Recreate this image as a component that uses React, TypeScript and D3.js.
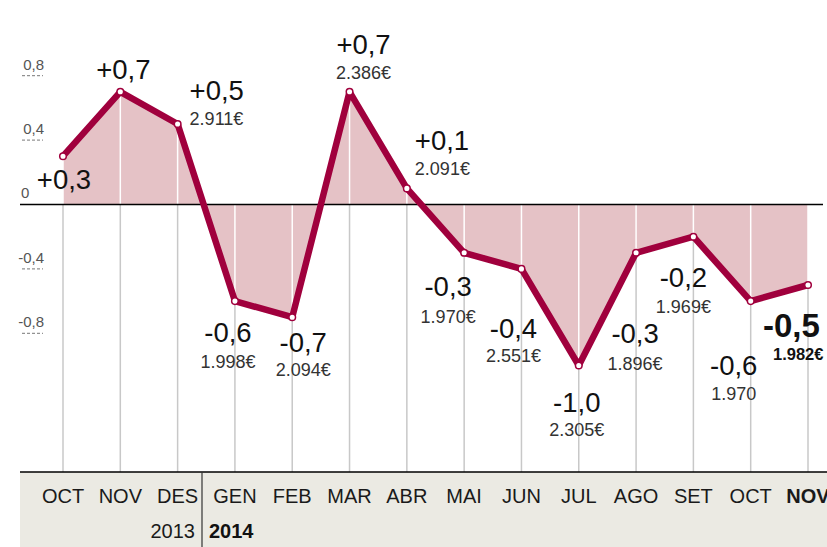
import React from 'react';
import * as d3 from 'd3';

// monthly change in % and average price
const months = ['OCT', 'NOV', 'DES', 'GEN', 'FEB', 'MAR', 'ABR', 'MAI', 'JUN', 'JUL', 'AGO', 'SET', 'OCT ', 'NOV '];
const monthLabels = ['OCT', 'NOV', 'DES', 'GEN', 'FEB', 'MAR', 'ABR', 'MAI', 'JUN', 'JUL', 'AGO', 'SET', 'OCT', 'NOV'];
const values = [0.3, 0.7, 0.5, -0.6, -0.7, 0.7, 0.1, -0.3, -0.4, -1.0, -0.3, -0.2, -0.6, -0.5];
const valueLabels = ['+0,3', '+0,7', '+0,5', '-0,6', '-0,7', '+0,7', '+0,1', '-0,3', '-0,4', '-1,0', '-0,3', '-0,2', '-0,6', '-0,5'];
const prices = ['', '', '2.911€', '1.998€', '2.094€', '2.386€', '2.091€', '1.970€', '2.551€', '2.305€', '1.896€', '1.969€', '1.970', '1.982€'];
const yTicks = [0.8, 0.4, 0, -0.4, -0.8];
const yTickLabels = ['0,8', '0,4', '0', '-0,4', '-0,8'];
const years = ['2013', '2014'];

// label placement relative to each point: [anchor, dx, dy, priceGap]
const labelLayout: [string, number, number, number][] = [
  ['middle', 1, 33, 0],
  ['middle', 3, -13, 0],
  ['start', 12, -24, 25],
  ['middle', -7, 41, 26],
  ['middle', 11, 35, 24],
  ['middle', 14, -38, 25],
  ['start', 8, -38, 25],
  ['middle', -16, 43, 27],
  ['middle', -8, 69, 24],
  ['middle', -2, 46, 24],
  ['middle', -1, 90, 27],
  ['middle', -10, 50, 26],
  ['middle', -17, 74, 25],
  ['start', -45, 52, 23],
];

const W = 827;
const H = 547;
const bandTop = 472;
const font = '"Liberation Sans", Arial, Helvetica, sans-serif';
const red = '#a0003d';

export default function App() {
  const x = d3.scalePoint<string>().domain(months).range([63, 808]);
  const y = d3.scaleLinear().domain([0.8, -0.8]).range([75.7, 333.3]);
  const data = months.map((m, i) => ({ m, v: values[i], i }));

  const area = d3.area<any>().x(d => x(d.m)!).y0(y(0)).y1(d => y(d.v));
  const line = d3.line<any>().x(d => x(d.m)!).y(d => y(d.v));
  const last = months.length - 1;

  return (
    <div style={{ position: 'absolute', left: 0, top: 0 }}>
      <svg width={W} height={H} style={{ display: 'block', fontFamily: font }}>
        <rect width={W} height={H} fill="#fff" />
        {/* gray guides */}
        {data.map(d => (
          <line key={'g' + d.i} x1={x(d.m)} x2={x(d.m)} y1={Math.max(y(d.v), y(0))} y2={bandTop}
            stroke="#c8c8c8" strokeWidth={1.5} />
        ))}
        <path d={area(data)!} fill="#e5c2c6" />
        {data.map(d => (
          <line key={'w' + d.i} x1={x(d.m)} x2={x(d.m)} y1={y(d.v)} y2={y(0)} stroke="#fff" strokeWidth={1.5} />
        ))}
        <line x1={20} x2={823} y1={y(0)} y2={y(0)} stroke="#000" strokeWidth={1.3} />

        {/* y axis */}
        {yTicks.map((t, i) => (
          <g key={'t' + i}>
            <text x={t === 0 ? 21 : 44} y={t === 0 ? y(t) - 7 : y(t) - 6} textAnchor={t === 0 ? 'start' : 'end'}
              fontSize={15} fill="#555">{yTickLabels[i]}</text>
            {t !== 0 && (
              <line x1={22} x2={43} y1={y(t)} y2={y(t)} stroke="#777" strokeWidth={1} strokeDasharray="3,2" />
            )}
          </g>
        ))}

        <path d={line(data)!} fill="none" stroke={red} strokeWidth={6.5} strokeLinejoin="round" />
        {data.map(d => (
          <circle key={'c' + d.i} cx={x(d.m)} cy={y(d.v)} r={3.3} fill="#fff" stroke={red} strokeWidth={1.5} />
        ))}

        {/* labels */}
        {data.map(d => {
          const [anchor, dx, dy, gap] = labelLayout[d.i];
          const px = x(d.m)! + dx;
          const py = y(d.v) + dy;
          const bold = d.i === last;
          return (
            <g key={'l' + d.i}>
              <text x={px} y={py} textAnchor={anchor} fontSize={bold ? 33 : 27.5}
                fontWeight={bold ? 'bold' : 'normal'} fill="#111">{valueLabels[d.i]}</text>
              {prices[d.i] && (
                <text x={bold ? px + 10 : px} y={py + gap} textAnchor={anchor} fontSize={bold ? 16.5 : 18}
                  fontWeight={bold ? 'bold' : 'normal'} fill={bold ? '#111' : '#333'}>{prices[d.i]}</text>
              )}
            </g>
          );
        })}

        {/* bottom band */}
        <rect x={20} y={bandTop} width={W - 20} height={H - bandTop} fill="#ebeae3" />
        <line x1={20} x2={W} y1={bandTop} y2={bandTop} stroke="#000" strokeWidth={1.5} />
        <line x1={202} x2={202} y1={bandTop} y2={H} stroke="#333" strokeWidth={1.2} />
        {data.map(d => (
          <text key={'m' + d.i} x={x(d.m)} y={503} textAnchor="middle" fontSize={20}
            fontWeight={d.i === last ? 'bold' : 'normal'} fill="#1a1a1a">{monthLabels[d.i]}</text>
        ))}
        <text x={195} y={538} textAnchor="end" fontSize={20} fill="#1a1a1a">{years[0]}</text>
        <text x={209} y={538} textAnchor="start" fontSize={20} fontWeight="bold" fill="#111">{years[1]}</text>
      </svg>
    </div>
  );
}
